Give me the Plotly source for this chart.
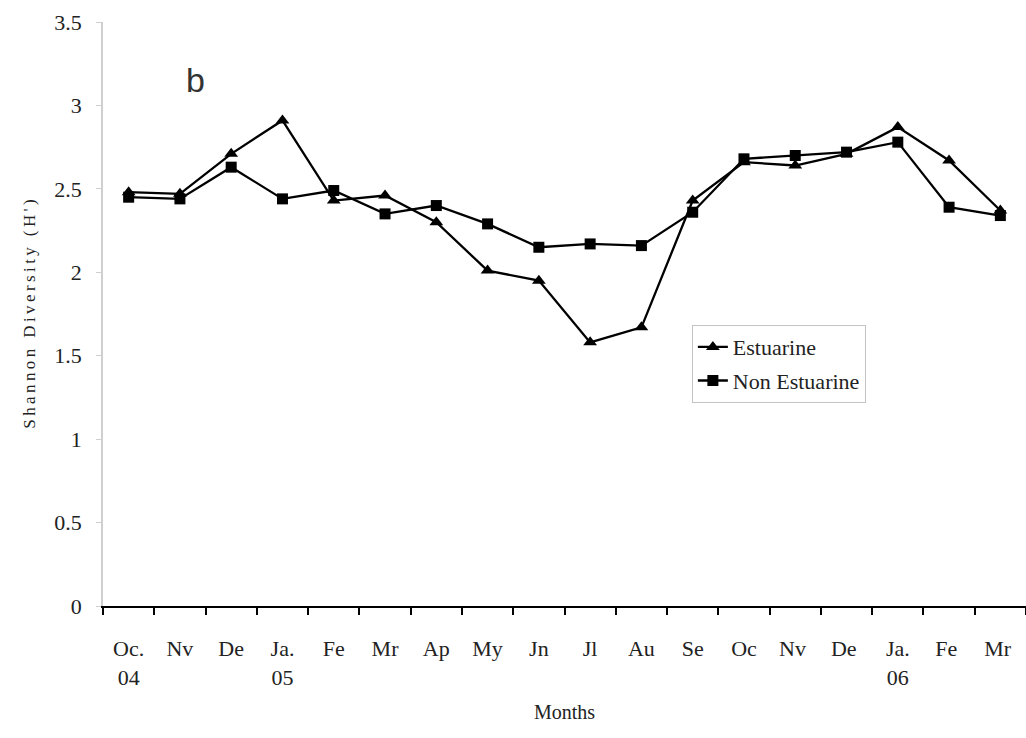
import plotly.graph_objects as go

months = ["Oc.<br>04", "Nv", "De", "Ja.<br>05", "Fe", "Mr", "Ap", "My", "Jn", "Jl",
          "Au", "Se", "Oc", "Nv ", "De ", "Ja.<br>06", "Fe ", "Mr "]
estuarine = [2.48, 2.47, 2.71, 2.91, 2.43, 2.46, 2.30, 2.01, 1.95, 1.58,
             1.67, 2.43, 2.66, 2.64, 2.71, 2.87, 2.67, 2.37]
non_estuarine = [2.45, 2.44, 2.63, 2.44, 2.49, 2.35, 2.40, 2.29, 2.15, 2.17,
                 2.16, 2.36, 2.68, 2.70, 2.72, 2.78, 2.39, 2.34]
yticks = [0, 0.5, 1, 1.5, 2, 2.5, 3, 3.5]
ytick_text = ["0", "0.5", "1", "1.5", "2", "2.5", "3", "3.5"]

serif = "Liberation Serif, Times New Roman, serif"
ytitle = "\u2009".join(list("Shannon")) + "\u2009 \u2009" + "\u2009".join(list("Diversity")) + "\u2009 \u2009" + "\u2009".join(list("(H')"))

fig = go.Figure()
fig.add_trace(go.Scatter(
    x=months, y=estuarine, name="Estuarine", mode="lines+markers",
    legendgroup="a",
    line=dict(color="black", width=2.3),
    marker=dict(symbol="triangle-up", size=12, color="black"),
))
fig.add_trace(go.Scatter(
    x=months, y=non_estuarine, name="Non Estuarine", mode="lines+markers",
    legendgroup="b",
    line=dict(color="black", width=2.3),
    marker=dict(symbol="square", size=11, color="black"),
))

fig.update_layout(
    width=1026, height=738,
    margin=dict(l=103, r=0, t=22, b=132),
    paper_bgcolor="white", plot_bgcolor="white",
    font=dict(family=serif, color="#222", size=22),
    showlegend=True,
    legend=dict(
        x=0.638, y=0.481, xanchor="left", yanchor="top",
        bgcolor="white", bordercolor="#c4c4c4", borderwidth=1,
        font=dict(family=serif, size=22, color="#222"),
        itemwidth=30, traceorder="grouped", tracegroupgap=2,
    ),
    xaxis=dict(
        type="category", range=[-0.5, 17.5],
        categoryorder="array", categoryarray=months,
        showline=True, linecolor="black", linewidth=2,
        ticks="outside", tickson="boundaries", ticklen=7, tickcolor="black", tickwidth=1.5,
        showgrid=False, zeroline=False,
        tickfont=dict(family=serif, size=22, color="#222"),
        ticklabelstandoff=22,
        title=dict(text="Months", font=dict(family=serif, size=20, color="#222"), standoff=16),
    ),
    yaxis=dict(
        range=[0, 3.5], tickvals=yticks, ticktext=ytick_text,
        showline=True, linecolor="#cfcfcf", linewidth=1.5,
        ticks="outside", ticklen=5, tickcolor="#cfcfcf",
        showgrid=False, zeroline=False,
        tickfont=dict(family=serif, size=22, color="#222"),
        ticklabelstandoff=10,
        title=dict(text=ytitle,
                   font=dict(family=serif, size=17, color="#222"), standoff=14),
    ),
)

fig.add_annotation(
    x=0.088, y=0.937, xref="paper", yref="paper",
    text="b", showarrow=False,
    font=dict(family="Liberation Sans, Arial, sans-serif", size=34, color="#333"),
)

fig.write_html("out.html")
